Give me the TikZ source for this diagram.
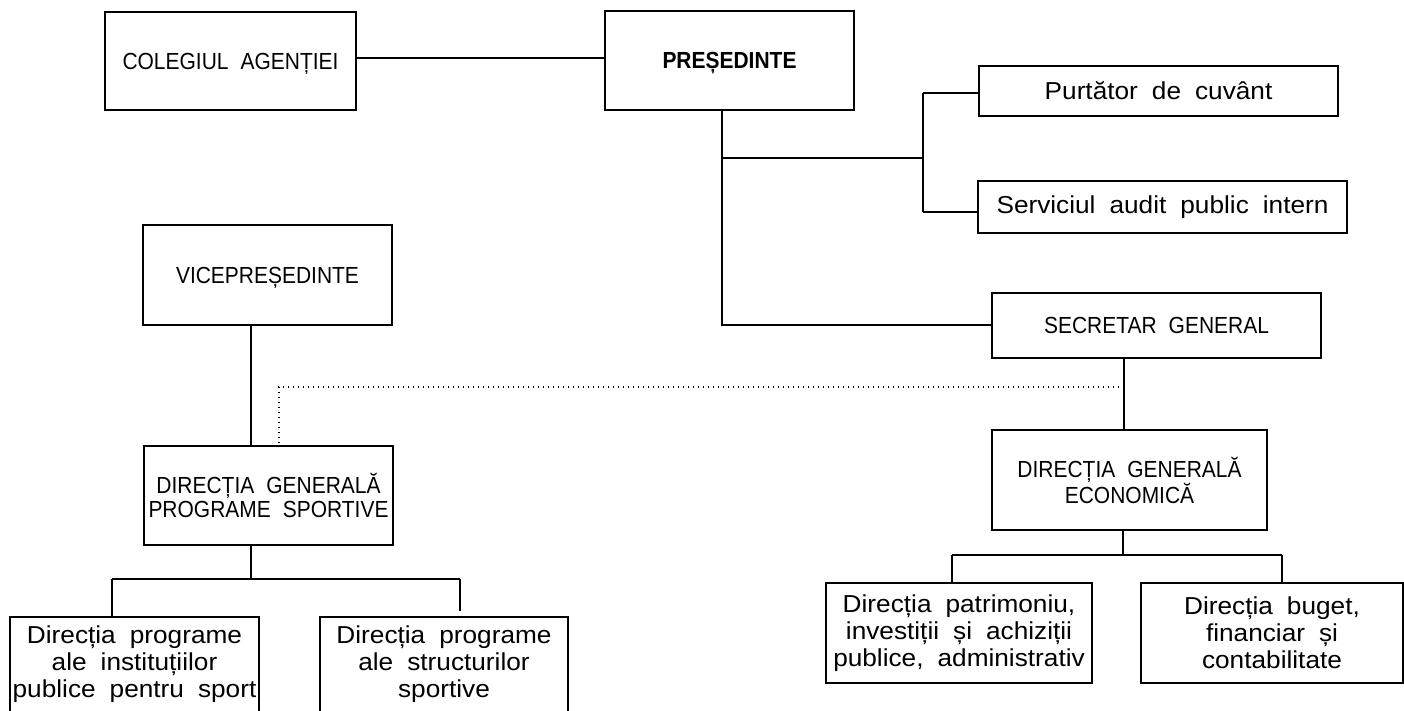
\documentclass[tikz,border=0pt]{standalone}
\usepackage{fontspec}
\setmainfont{Liberation Sans}
\newfontfamily\lcfont[FakeStretch=1.07]{Liberation Sans}
\newfontfamily\capfont[FakeStretch=0.9]{Liberation Sans}
\protected\def\capsfnt{\capfont\fontsize{23.3}{24}\selectfont\spaceskip=12pt\relax}
\protected\def\boldfnt{\capfont\bfseries\fontsize{23.3}{24}\selectfont}
\protected\def\lcfnt{\lcfont\fontsize{24.5}{27}\selectfont\spaceskip=14pt\relax}
\begin{document}
\begin{tikzpicture}[x=1pt,y=-1pt,
  box/.style={draw, line width=1.6pt, inner sep=0pt, align=center},
  capsbox/.style={box, font=\capsfnt, text depth=0pt},
  boldbox/.style={box, font=\boldfnt, text depth=0pt},
  textbox/.style={box, font=\lcfnt},
  link/.style={line width=1.5pt},
  dotlink/.style={line width=1.3pt, dash pattern=on 1.2pt off 3.8pt}]
\useasboundingbox (0,0) rectangle (1404,710);
\clip (0,0) rectangle (1404,710);
\fill[white] (0,0) rectangle (1404,710);

% boxes
\node[capsbox, minimum width=251pt, minimum height=98pt] (col) at (230.5,61) {COLEGIUL AGENȚIEI};
\node[boldbox, minimum width=249pt, minimum height=99pt] (pres) at (729.5,60.5) {PREȘEDINTE};
\node[textbox, minimum width=359pt, minimum height=50pt] (purt) at (1158.5,91) {Purtător de cuvânt};
\node[textbox, minimum width=369pt, minimum height=52pt] (serv) at (1162.5,207) {Serviciul audit public intern};
\node[capsbox, minimum width=329pt, minimum height=65pt] (sec) at (1156.5,325.5) {SECRETAR GENERAL};
\node[capsbox, minimum width=249pt, minimum height=100pt] (vice) at (267.5,275) {VICEPREȘEDINTE};
\node[capsbox, minimum width=249pt, minimum height=99pt] (dgps) at (268.5,495.5) {DIRECȚIA GENERALĂ\\PROGRAME SPORTIVE};
\node[capsbox, minimum width=275pt, minimum height=100pt] (dge) at (1129.5,480) {DIRECȚIA GENERALĂ\\ECONOMICĂ};
\node[textbox, minimum width=249pt, minimum height=95pt] (b1) at (134.5,664.5) {Direcția programe\\ale instituțiilor\\publice pentru sport};
\node[textbox, minimum width=248pt, minimum height=95pt] (b2) at (444,664.5) {Direcția programe\\ale structurilor\\sportive};
\node[textbox, minimum width=266pt, minimum height=100pt] (b3) at (959,633) {Direcția patrimoniu,\\investiții și achiziții\\publice, administrativ};
\node[textbox, minimum width=262pt, minimum height=100pt] (b4) at (1272,633) {Direcția buget,\\financiar și\\contabilitate};

% junction coordinates
\coordinate (pdown) at (722,325);
\coordinate (pmid) at (722,158);
\coordinate (brmid) at (923,158);
\coordinate (brtop) at (923,93);
\coordinate (brbot) at (923,212);
\coordinate (secdot) at (1124,387);
\coordinate (dgdot) at (279,387);
\coordinate (lbar) at (251,579);
\coordinate (lbarL) at (112,579);
\coordinate (lbarR) at (460,579);
\coordinate (rbar) at (1123,555);
\coordinate (rbarL) at (952,555);
\coordinate (rbarR) at (1282,555);

% connectors
\draw[link] (col.east |- 0,58) -- (pres.west |- 0,58);
\draw[link] (pres.south -| pdown) -- (pdown) -- (sec.west |- pdown);
\draw[link] (pmid) -- (brmid);
\draw[link] (brtop) -- (brbot);
\draw[link] (brtop) -- (purt.west |- brtop);
\draw[link] (brbot) -- (serv.west |- brbot);
\draw[link] (sec.south -| secdot) -- (dge.north -| secdot);
\draw[dotlink] (secdot) -- (dgdot) -- (dgps.north -| dgdot);
\draw[link] (vice.south -| lbar) -- (dgps.north -| lbar);
\draw[link] (dgps.south -| lbar) -- (lbar);
\draw[link] (lbarL) -- (lbarR);
\draw[link] (lbarL) -- (b1.north -| lbarL);
\draw[link] (lbarR) -- ([yshift=5pt]b2.north -| lbarR);
\draw[link] (dge.south -| rbar) -- (rbar);
\draw[link] (rbarL) -- (rbarR);
\draw[link] (rbarL) -- (b3.north -| rbarL);
\draw[link] (rbarR) -- (b4.north -| rbarR);
\end{tikzpicture}
\end{document}
